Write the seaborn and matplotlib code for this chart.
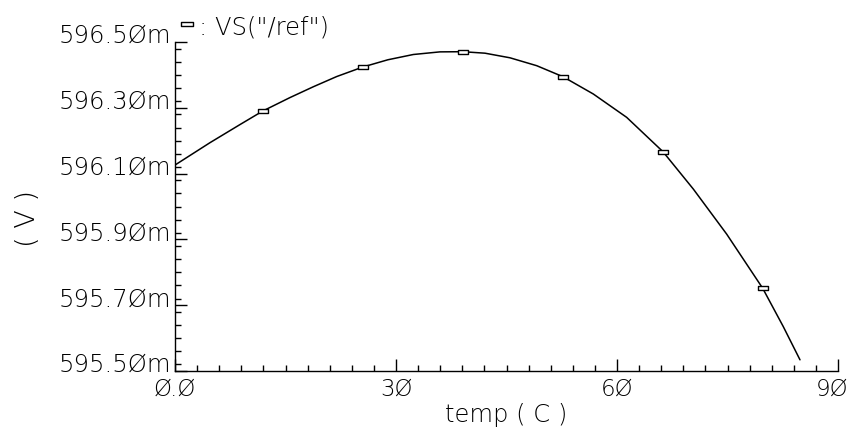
import numpy as np
import pandas as pd
import matplotlib
matplotlib.use("Agg")
import matplotlib.pyplot as plt
import matplotlib.transforms as mtransforms
from matplotlib.path import Path
from matplotlib.lines import Line2D
from matplotlib.ticker import MultipleLocator, FixedLocator
import seaborn as sns

# ---- data ----
curve_temp = [0.0, 4.75, 8.82, 11.9, 15.6, 18.78, 21.95, 25.5, 28.9, 32.35,
              35.97, 39.05, 42.08, 45.47, 49.1, 52.67, 56.78, 61.31, 66.24,
              70.36, 74.89, 79.77, 82.57, 84.84]
curve_v_mV = [596.126, 596.194, 596.249, 596.290, 596.331, 596.364, 596.395,
              596.424, 596.446, 596.462, 596.470, 596.4705, 596.466, 596.452,
              596.428, 596.3945, 596.342, 596.271, 596.1666, 596.053, 595.916,
              595.7517, 595.635, 595.534]
marker_temp = [11.9, 25.5, 39.05, 52.67, 66.24, 79.77]
marker_v_mV = [596.290, 596.424, 596.4705, 596.3945, 596.1666, 595.7517]

x_ticks = [0, 30, 60, 90]
x_tick_labels = ["Ø.Ø", "3Ø", "6Ø", "9Ø"]
y_ticks = [595.50, 595.70, 595.90, 596.10, 596.30, 596.50]
y_tick_labels = ["595.5Øm", "595.7Øm", "595.9Øm", "596.1Øm", "596.3Øm", "596.5Øm"]
legend_label = ': VS("/ref")'
x_label = "temp ( C )"
y_label = "( V )"

curve = pd.DataFrame({"temp": curve_temp, "v": curve_v_mV})
marks = pd.DataFrame({"temp": marker_temp, "v": marker_v_mV})

sns.set_style("white")
plt.rcParams["font.family"] = ["DejaVu Sans"]
FS = 17.5
FW = "light"
TC = "black"

fig = plt.figure(figsize=(8.52, 4.39), dpi=100)
ax = fig.add_axes([175 / 852, 1 - 372 / 439, (838 - 175) / 852, (372 - 43) / 439])

sns.lineplot(data=curve, x="temp", y="v", ax=ax, color="black", linewidth=1.1,
             sort=False, estimator=None)

rect = Path([(-1.25, -0.5), (1.25, -0.5), (1.25, 0.5), (-1.25, 0.5), (-1.25, -0.5)],
            [Path.MOVETO, Path.LINETO, Path.LINETO, Path.LINETO, Path.CLOSEPOLY])
sns.scatterplot(data=marks, x="temp", y="v", ax=ax, marker=rect, s=60,
                facecolor="white", edgecolor="black", linewidth=1.0, zorder=5)

ax.set_xlim(0, 90)
ax.set_ylim(595.50, 596.50)
ax.xaxis.set_major_locator(FixedLocator(x_ticks))
ax.set_xticklabels(x_tick_labels)
ax.xaxis.set_minor_locator(MultipleLocator(3))
ax.yaxis.set_major_locator(FixedLocator(y_ticks))
ax.set_yticklabels(y_tick_labels)
ax.yaxis.set_minor_locator(MultipleLocator(0.04))

ax.tick_params(which="both", bottom=True, left=True, top=False, right=False)
ax.tick_params(which="major", direction="in", length=8.5, width=1.0, color="black",
               labelsize=FS, pad=3, labelcolor=TC)
ax.tick_params(which="minor", direction="in", length=4.3, width=1.0, color="black")
ax.tick_params(axis="x", which="major", pad=4, labelsize=16.5)
for lab in ax.get_xticklabels() + ax.get_yticklabels():
    lab.set_fontweight(FW)
for lab in ax.get_yticklabels():
    lab.set_verticalalignment("baseline")
# keep the last x label inside the canvas (it sits at the right edge)
last = ax.get_xticklabels()[-1]
last.set_transform(last.get_transform() +
                   mtransforms.ScaledTranslation(-6 / 100, 0, fig.dpi_scale_trans))

for s in ["top", "right"]:
    ax.spines[s].set_visible(False)
for s in ["left", "bottom"]:
    ax.spines[s].set_color("black")
    ax.spines[s].set_linewidth(1.0)

ax.set_xlabel(x_label, fontsize=FS, fontweight=FW, color=TC, labelpad=2)
ax.set_ylabel(y_label, fontsize=FS + 2, fontweight=FW, color=TC)
ax.yaxis.set_label_coords(-135 / 663, 0.468)

handle = Line2D([], [], linestyle="none", marker=rect, markersize=8,
                markerfacecolor="white", markeredgecolor="black", markeredgewidth=1.0)
fig.legend([handle], [legend_label], loc="center left",
           bbox_to_anchor=(180 / 852, 1 - 27 / 439), frameon=False,
           handlelength=0.6, handletextpad=0.2, borderpad=0, borderaxespad=0,
           prop={"size": FS, "weight": FW})
for t in fig.legends[0].get_texts():
    t.set_color(TC)

fig.savefig("out.png", dpi=100, facecolor="white")
